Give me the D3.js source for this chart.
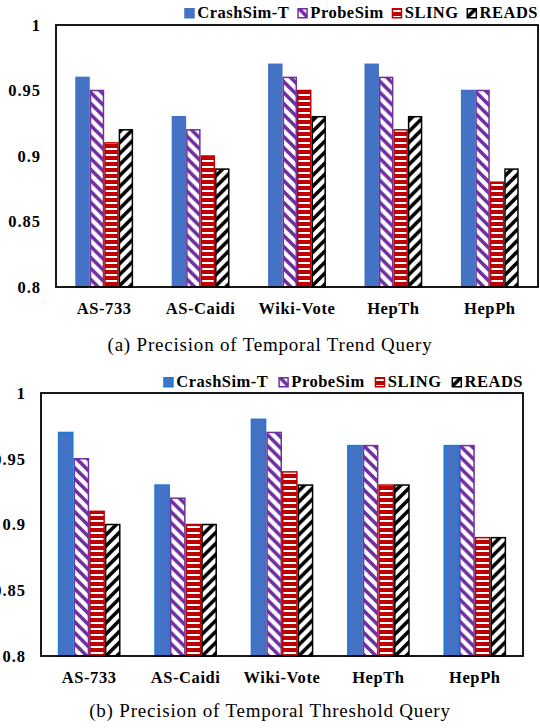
<!DOCTYPE html>
<html>
<head>
<meta charset="utf-8">
<style>
body { margin: 0; background: #fff; }
svg { display: block; }
.tick text, .cat, .legend text { font-family: "Liberation Serif", "Times New Roman", Times, serif; font-weight: bold; fill: #000; }
.caption { font-family: "Liberation Serif", "Times New Roman", Times, serif; fill: #000; }
</style>
</head>
<body>
<svg width="540" height="728"></svg>
<script src="https://cdn.jsdelivr.net/npm/d3@7"></script>
<script>
// data
var categories = ["AS-733", "AS-Caidi", "Wiki-Vote", "HepTh", "HepPh"];
var seriesNames = ["CrashSim-T", "ProbeSim", "SLING", "READS"];
var yTicks = [0.8, 0.85, 0.9, 0.95, 1];
var yTickLabels = ["0.8", "0.85", "0.9", "0.95", "1"];

// (a) temporal trend query
var trendCrashSimT = [0.96, 0.93, 0.97, 0.97, 0.95];
var trendProbeSim  = [0.95, 0.92, 0.96, 0.96, 0.95];
var trendSLING     = [0.91, 0.90, 0.95, 0.92, 0.88];
var trendREADS     = [0.92, 0.89, 0.93, 0.93, 0.89];

// (b) temporal threshold query
var thresholdCrashSimT = [0.97, 0.93, 0.98, 0.96, 0.96];
var thresholdProbeSim  = [0.95, 0.92, 0.97, 0.96, 0.96];
var thresholdSLING     = [0.91, 0.90, 0.94, 0.93, 0.89];
var thresholdREADS     = [0.90, 0.90, 0.93, 0.93, 0.89];

var svg = d3.select("svg");
var defs = svg.append("defs");

// hatch patterns, one per series
function hatch(id, color, dir) {
  var s = 11;
  var p = defs.append("pattern").attr("id", id)
    .attr("patternUnits", "userSpaceOnUse")
    .attr("width", s).attr("height", s);
  p.append("rect").attr("width", s).attr("height", s).attr("fill", "#fff");
  var d = dir === "down"
    ? "M-2,-2L" + (s + 2) + "," + (s + 2) + "M-2," + (s - 2) + "L2," + (s + 2) + "M" + (s - 2) + ",-2L" + (s + 2) + ",2"
    : "M-2," + (s + 2) + "L" + (s + 2) + ",-2M-2,2L2,-2M" + (s - 2) + "," + (s + 2) + "L" + (s + 2) + "," + (s - 2);
  p.append("path").attr("d", d).attr("stroke", color).attr("stroke-width", 3.6);
}
hatch("pat-probe", "#7030A0", "down");
hatch("pat-reads", "#000000", "up");

var sp = defs.append("pattern").attr("id", "pat-sling")
  .attr("patternUnits", "userSpaceOnUse")
  .attr("width", 10).attr("height", 6);
sp.append("rect").attr("width", 10).attr("height", 6).attr("fill", "#C00000");
sp.append("rect").attr("y", 4).attr("width", 10).attr("height", 2).attr("fill", "#fff");

var fills = d3.scaleOrdinal().domain(seriesNames)
  .range(["#4472C4", "url(#pat-probe)", "url(#pat-sling)", "url(#pat-reads)"]);
var strokes = d3.scaleOrdinal().domain(seriesNames)
  .range(["#4472C4", "#7030A0", "#C00000", "#000000"]);

function drawPanel(opt) {
  var g = svg.append("g");

  var x0 = d3.scaleBand().domain(categories)
    .range([opt.left, opt.right])
    .paddingInner(opt.pad).paddingOuter(opt.pad / 2);
  var x1 = d3.scaleBand().domain(seriesNames).range([0, x0.bandwidth()]);
  var y = d3.scaleLinear().domain([0.8, 1]).range([opt.bottom, opt.top]);

  var rows = categories.map(function(c, i) {
    return { cat: c, vals: opt.series.map(function(s, j) { return { key: seriesNames[j], v: s[i] }; }) };
  });

  // bars
  var grp = g.selectAll(".grp").data(rows).enter().append("g")
    .attr("transform", function(d) { return "translate(" + x0(d.cat) + ",0)"; });
  grp.selectAll("rect").data(function(d) { return d.vals; }).enter().append("rect")
    .attr("x", function(d) { return x1(d.key) + 0.75; })
    .attr("y", function(d) { return y(d.v); })
    .attr("width", x1.bandwidth() - 1.5)
    .attr("height", function(d) { return y(0.8) - y(d.v); })
    .attr("fill", function(d) { return fills(d.key); })
    .attr("stroke", function(d) { return d.key === "CrashSim-T" ? opt.blueEdge : strokes(d.key); })
    .attr("stroke-width", 1.5);

  // frame
  g.append("rect")
    .attr("x", opt.left).attr("y", opt.top)
    .attr("width", opt.right - opt.left).attr("height", opt.bottom - opt.top)
    .attr("fill", "none").attr("stroke", "#000").attr("stroke-width", 1.8);

  // y axis labels
  var ax = g.append("g").attr("transform", "translate(" + opt.left + ",0)")
    .call(d3.axisLeft(y).tickValues(yTicks).tickSize(0).tickPadding(15)
      .tickFormat(function(d, i) { return yTickLabels[i]; }));
  ax.select(".domain").remove();
  ax.selectAll("text").attr("font-size", 16.5).attr("letter-spacing", "1px")
    .attr("font-family", "'Liberation Serif', 'Times New Roman', serif").attr("font-weight", "bold");

  // category labels
  g.selectAll(".cat").data(categories).enter().append("text")
    .attr("class", "cat")
    .attr("x", function(d) { return x0(d) + x0.bandwidth() / 2; })
    .attr("y", opt.bottom + 27)
    .attr("text-anchor", "middle")
    .attr("font-size", 16.5).attr("letter-spacing", "0.6px")
    .text(function(d) { return d; });

  // legend, right aligned to the frame
  var lg = g.append("g").attr("class", "legend");
  var items = lg.selectAll("g").data(seriesNames).enter().append("g");
  items.append("rect")
    .attr("x", 0.75).attr("y", -9.25).attr("width", 9).attr("height", 9)
    .attr("fill", function(d) { return fills(d); })
    .attr("stroke", function(d) { return d === "CrashSim-T" ? opt.blueEdge : strokes(d); })
    .attr("stroke-width", 1.5);
  items.append("text")
    .attr("x", 13).attr("y", 0)
    .attr("font-size", 16.5).attr("letter-spacing", "0.5px")
    .text(function(d) { return d; });
  var pos = 0;
  items.each(function() {
    var w = this.querySelector("text").getComputedTextLength();
    d3.select(this).attr("transform", "translate(" + pos + ",0)");
    pos += 13 + w + opt.legGap;
  });
  var total = pos - opt.legGap;
  lg.attr("transform", "translate(" + (opt.right - total) + "," + opt.legY + ")");

  // caption
  svg.append("text").attr("class", "caption")
    .attr("x", 270).attr("y", opt.capY)
    .attr("text-anchor", "middle")
    .attr("font-size", 19).attr("letter-spacing", "0.8px")
    .text(opt.caption);
}

drawPanel({
  left: 56, right: 538, top: 25, bottom: 287, pad: 0.4,
  series: [trendCrashSimT, trendProbeSim, trendSLING, trendREADS],
  blueEdge: "#4472C4", legY: 18, legGap: 8, capY: 351,
  caption: "(a) Precision of Temporal Trend Query"
});

drawPanel({
  left: 41, right: 523, top: 393, bottom: 656, pad: 0.35,
  series: [thresholdCrashSimT, thresholdProbeSim, thresholdSLING, thresholdREADS],
  blueEdge: "#1B7BD3", legY: 387, legGap: 10, capY: 717,
  caption: "(b) Precision of Temporal Threshold Query"
});
</script>
</body>
</html>
